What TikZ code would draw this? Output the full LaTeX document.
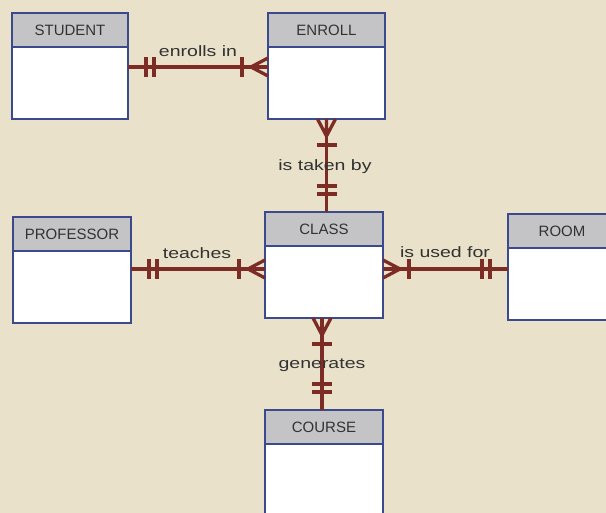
\documentclass[tikz,border=0pt]{standalone}
\usepackage{fontspec}
\setmainfont{Liberation Sans}
\usetikzlibrary{calc}
\definecolor{bgcol}{RGB}{233,225,201}
\definecolor{hdrcol}{RGB}{196,196,199}
\definecolor{bordercol}{RGB}{58,74,140}
\definecolor{relcol}{RGB}{124,43,37}
\definecolor{txtcol}{RGB}{50,50,50}
\newcommand\lbltext[1]{\scalebox{1.3}[1]{#1}}
\tikzset{
  hdr/.style={draw=bordercol, fill=hdrcol, line width=1.8pt, inner sep=0pt, outer sep=0pt,
    minimum height=34pt, font=\fontsize{15}{15}\selectfont, text=txtcol, anchor=north west},
  bodybox/.style={draw=bordercol, fill=white, line width=1.8pt, inner sep=0pt, outer sep=0pt,
    minimum height=72pt, anchor=north},
  rel/.style={draw=relcol, line width=3.3pt},
  lbl/.style={font=\fontsize{15}{15}\selectfont, text=txtcol, inner sep=0pt, anchor=base},
  pics/crow/.style={code={
    \draw[rel] (-17,0) -- (0,9) (-17,0) -- (0,0) (-17,0) -- (0,-9);
    \draw[rel] (-26,-10) -- (-26,10);}},
  pics/dbar/.style={code={
    \draw[rel] (-18,-10) -- (-18,10) (-26,-10) -- (-26,10);}}
}
\begin{document}
\begin{tikzpicture}[x=1pt,y=-1pt]
\fill[bgcol] (0,0) rectangle (606,513);
\useasboundingbox (0,0) rectangle (606,513);
\clip (0,0) rectangle (606,513);
% entities
\node[hdr, minimum width=116pt] (studenth) at (12,13) {STUDENT};
\node[bodybox, minimum width=116pt] (student) at (studenth.south) {};
\node[hdr, minimum width=117pt] (enrollh) at (268,13) {ENROLL};
\node[bodybox, minimum width=117pt] (enroll) at (enrollh.south) {};
\node[hdr, minimum width=118pt] (professorh) at (13,217) {PROFESSOR};
\node[bodybox, minimum width=118pt] (professor) at (professorh.south) {};
\node[hdr, minimum width=118pt] (classh) at (265,212) {CLASS};
\node[bodybox, minimum width=118pt] (class) at (classh.south) {};
\node[hdr, minimum width=108pt] (roomh) at (508,214) {ROOM};
\node[bodybox, minimum width=108pt] (room) at (roomh.south) {};
\node[hdr, minimum width=118pt] (courseh) at (265,410) {COURSE};
\node[bodybox, minimum width=118pt] (course) at (courseh.south) {};
% enrolls in
\coordinate (r1a) at ($(student.north east)+(0,20)$);
\coordinate (r1b) at (r1a -| enroll.west);
\draw[rel] (r1a) -- (r1b);
\pic[rotate=180] at (r1a) {dbar};
\pic at (r1b) {crow};
\node[lbl] (l1) at (198,57) {\lbltext{enrolls in}};
% is taken by
\coordinate (r2a) at (enroll.south);
\coordinate (r2b) at (r2a |- classh.north);
\draw[rel] (r2a) -- (r2b);
\pic[rotate=90] at (r2a) {crow};
\pic[rotate=-90] at (r2b) {dbar};
\node[lbl] (l2) at (325,171) {\lbltext{is taken by}};
% teaches
\coordinate (r3a) at ($(professor.north east)+(0,18)$);
\coordinate (r3b) at (r3a -| class.west);
\draw[rel] (r3a) -- (r3b);
\pic[rotate=180] at (r3a) {dbar};
\pic at (r3b) {crow};
\node[lbl] (l3) at (197,259) {\lbltext{teaches}};
% is used for
\coordinate (r4a) at (r3a -| class.east);
\coordinate (r4b) at (r3a -| room.west);
\draw[rel] (r4a) -- (r4b);
\pic[rotate=180] at (r4a) {crow};
\pic at (r4b) {dbar};
\node[lbl] (l4) at (445,258) {\lbltext{is used for}};
% generates
\coordinate (r5a) at ($(class.south)+(-2,0)$);
\coordinate (r5b) at (r5a |- courseh.north);
\draw[rel] (r5a) -- (r5b);
\pic[rotate=90] at (r5a) {crow};
\pic[rotate=-90] at (r5b) {dbar};
\node[lbl] (l5) at (322,369) {\lbltext{generates}};
\end{tikzpicture}
\end{document}
